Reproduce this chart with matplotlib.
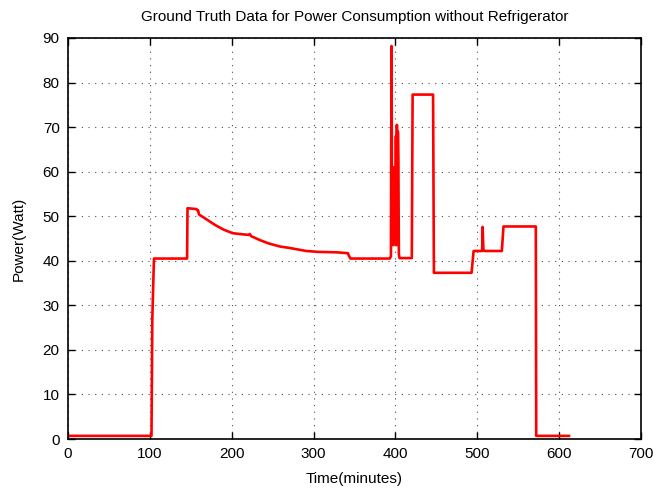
import numpy as np
import matplotlib
matplotlib.use("Agg")
import matplotlib.pyplot as plt

# ground truth power trace (minutes, watts)
t = [0, 102, 103, 105, 145.5, 146, 157, 158, 159, 160, 170, 180, 190, 201, 210, 221, 222, 224,
     235, 245, 259, 270, 291, 305, 328, 342, 343, 345, 393, 394.5, 395.2, 396, 397, 397.6, 398.2,
     398.8, 399.4, 400, 400.6, 401.2, 401.8, 402.4, 403, 403.6, 404.2, 405, 420, 421, 446, 447,
     493, 495.5, 506, 506.5, 507.5, 508.5, 530, 532, 571.5, 572, 612]
p = [0.7, 0.7, 27, 40.5, 40.5, 51.8, 51.6, 51.3, 51.3, 50.4, 49.2, 48.0, 47.0, 46.2, 46.0, 45.8, 46.0, 45.5,
     44.6, 43.9, 43.2, 42.9, 42.2, 42.0, 41.9, 41.7, 41.2, 40.5, 40.5, 41, 88.2, 44, 48, 43.5, 61,
     44, 58, 45, 68, 43.5, 70.5, 46, 69, 62, 41.5, 40.6, 40.6, 77.3, 77.3, 37.3,
     37.3, 42.2, 42.2, 47.6, 42.5, 42.2, 42.2, 47.7, 47.7, 0.7, 0.7]

XTICKS = np.arange(0, 701, 100)
YTICKS = np.arange(0, 91, 10)

plt.rcParams.update({"font.family": ["Liberation Sans", "DejaVu Sans"], "font.size": 11})

fig = plt.figure(figsize=(6.53, 4.9), dpi=100)
ax = fig.add_axes([68 / 653, 1 - 439 / 490, (641 - 68) / 653, (439 - 38) / 490])
ax.plot(t, p, color="red", lw=1.9)
ax.set_xlim(0, 700)
ax.set_ylim(0, 90)
ax.set_xticks(XTICKS)
ax.set_yticks(YTICKS)
ax.tick_params(direction="in", top=True, right=True, length=5, width=1, labelsize=11, pad=6)
ax.grid(True, color="black", ls=(0, (1, 5)), lw=0.8, alpha=0.7)
for s in ax.spines.values():
    s.set_linewidth(1.2)
ax.set_xlabel("Time(minutes)", fontsize=11, labelpad=8)
ax.set_ylabel("Power(Watt)", fontsize=11, labelpad=12)
ax.set_title("Ground Truth Data for Power Consumption without Refrigerator", fontsize=11, pad=12)
fig.savefig("out.png", dpi=100)
